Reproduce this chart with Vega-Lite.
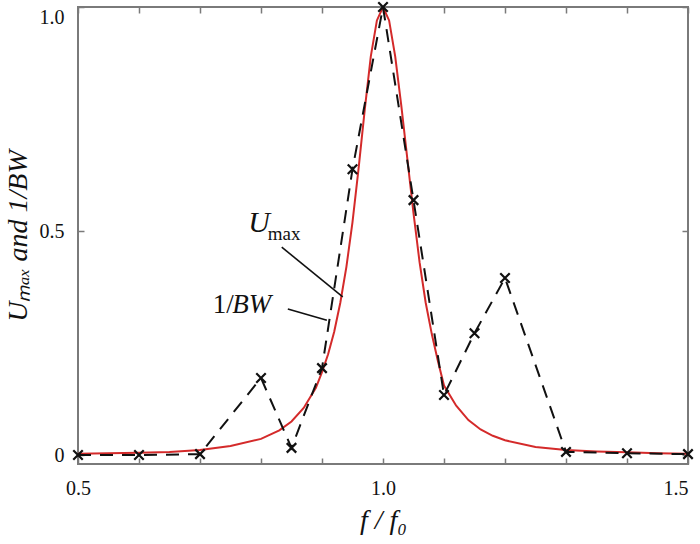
{
  "$schema": "https://vega.github.io/schema/vega-lite/v6.json",
  "width": 610,
  "height": 457,
  "autosize": "none",
  "padding": {"left": 78, "top": 7, "right": 12, "bottom": 80},
  "background": "white",
  "config": {
    "view": {"stroke": "#7a7a7a", "strokeWidth": 2},
    "font": "Liberation Serif",
    "axis": {"grid": false, "domain": false, "tickColor": "#7a7a7a", "tickWidth": 1.5, "labelFont": "Liberation Serif", "titleFont": "Liberation Serif", "labelColor": "#111", "titleColor": "#111"}
  },
  "resolve": {"axis": {"x": "independent", "y": "independent"}},
  "datasets": {
    "curve": [
      {"f": 0.5, "u": 0.003}, {"f": 0.55, "u": 0.004}, {"f": 0.6, "u": 0.005}, {"f": 0.65, "u": 0.007},
      {"f": 0.7, "u": 0.011}, {"f": 0.75, "u": 0.02}, {"f": 0.8, "u": 0.036}, {"f": 0.83, "u": 0.055},
      {"f": 0.85, "u": 0.075}, {"f": 0.87, "u": 0.105}, {"f": 0.89, "u": 0.15}, {"f": 0.9, "u": 0.185},
      {"f": 0.91, "u": 0.225}, {"f": 0.92, "u": 0.275}, {"f": 0.93, "u": 0.34}, {"f": 0.94, "u": 0.42},
      {"f": 0.95, "u": 0.52}, {"f": 0.96, "u": 0.64}, {"f": 0.97, "u": 0.77}, {"f": 0.98, "u": 0.89},
      {"f": 0.99, "u": 0.97}, {"f": 1.0, "u": 1.0}, {"f": 1.01, "u": 0.97}, {"f": 1.02, "u": 0.89},
      {"f": 1.03, "u": 0.78}, {"f": 1.04, "u": 0.66}, {"f": 1.05, "u": 0.54}, {"f": 1.06, "u": 0.43},
      {"f": 1.07, "u": 0.34}, {"f": 1.08, "u": 0.27}, {"f": 1.09, "u": 0.21}, {"f": 1.1, "u": 0.155},
      {"f": 1.12, "u": 0.11}, {"f": 1.14, "u": 0.078}, {"f": 1.16, "u": 0.057}, {"f": 1.18, "u": 0.043},
      {"f": 1.2, "u": 0.033}, {"f": 1.25, "u": 0.018}, {"f": 1.3, "u": 0.011}, {"f": 1.35, "u": 0.008},
      {"f": 1.4, "u": 0.006}, {"f": 1.45, "u": 0.004}, {"f": 1.5, "u": 0.003}
    ],
    "measured": [
      {"f": 0.5, "v": 0.0}, {"f": 0.6, "v": 0.0}, {"f": 0.7, "v": 0.002}, {"f": 0.8, "v": 0.172},
      {"f": 0.85, "v": 0.016}, {"f": 0.9, "v": 0.194}, {"f": 0.95, "v": 0.638}, {"f": 1.0, "v": 1.0},
      {"f": 1.05, "v": 0.569}, {"f": 1.1, "v": 0.134}, {"f": 1.15, "v": 0.272}, {"f": 1.2, "v": 0.395},
      {"f": 1.3, "v": 0.007}, {"f": 1.4, "v": 0.004}, {"f": 1.5, "v": 0.002}
    ],
    "leaders": [
      {"name": "Umax", "f1": 0.834, "y1": 0.464, "f2": 0.934, "y2": 0.353},
      {"name": "BW", "f1": 0.844, "y1": 0.326, "f2": 0.908, "y2": 0.301}
    ],
    "labels": [
      {"part": "U", "f": 0.779, "y": 0.497, "t": "U"},
      {"part": "max", "f": 0.811, "y": 0.481, "t": "max"},
      {"part": "one", "f": 0.721, "y": 0.318, "t": "1/"},
      {"part": "BW", "f": 0.753, "y": 0.318, "t": "BW"}
    ]
  },
  "layer": [
    {
      "data": {"name": "curve"},
      "mark": {"type": "line", "color": "#d42a2a", "strokeWidth": 2, "clip": true},
      "encoding": {
        "x": {
          "field": "f", "type": "quantitative",
          "scale": {"domain": [0.5, 1.5], "nice": false, "zero": false},
          "axis": {
            "orient": "bottom",
            "values": [0.5, 0.6, 0.7, 0.8, 0.9, 1.0, 1.1, 1.2, 1.3, 1.4, 1.5],
            "labelExpr": "datum.value == 0.5 || datum.value == 1 || datum.value == 1.5 ? format(datum.value, '.1f') : ''",
            "tickSize": -6,
            "labelPadding": 20,
            "labelFontSize": 20,
            "labelFlush": false,
            "labelOverlap": false,
            "labelAlign": {"condition": {"test": "datum.value == 1.5", "value": "right"}, "value": "center"},
            "title": "f / f₀",
            "titleFontSize": 28,
            "titleFontStyle": "italic",
            "titleFontWeight": "normal",
            "titlePadding": 8
          }
        },
        "y": {
          "field": "u", "type": "quantitative",
          "scale": {"domain": [-0.02, 1.0], "nice": false, "zero": false},
          "axis": {
            "orient": "left",
            "values": [0, 0.5, 1.0],
            "labelExpr": "datum.value == 0 ? '0' : format(datum.value, '.1f')",
            "tickSize": -6,
            "labelPadding": 20,
            "labelFontSize": 20,
            "labelFlush": false,
            "labelOverlap": false,
            "labelBaseline": {"condition": {"test": "datum.value == 1", "value": "top"}, "value": "middle"},
            "title": "Uₘₐₓ  and  1/BW",
            "titleFontSize": 28,
            "titleFontStyle": "italic",
            "titleFontWeight": "normal",
            "titlePadding": 7
          }
        }
      }
    },
    {
      "data": {"name": "curve"},
      "mark": {"type": "rule", "opacity": 0},
      "encoding": {
        "x": {"field": "f", "type": "quantitative", "axis": {"orient": "top", "values": [0.5, 0.6, 0.7, 0.8, 0.9, 1.0, 1.1, 1.2, 1.3, 1.4, 1.5], "labels": false, "tickSize": -6, "title": null}},
        "y": {"field": "u", "type": "quantitative", "axis": {"orient": "right", "values": [0, 0.5, 1.0], "labels": false, "tickSize": -6, "title": null}}
      }
    },
    {
      "data": {"name": "measured"},
      "mark": {"type": "line", "color": "#111", "strokeWidth": 2, "strokeDash": [13, 9]},
      "encoding": {
        "x": {"field": "f", "type": "quantitative", "axis": null},
        "y": {"field": "v", "type": "quantitative", "axis": null}
      }
    },
    {
      "data": {"name": "measured"},
      "mark": {"type": "point", "shape": "M-1,-1L1,1M-1,1L1,-1", "size": 90, "filled": false, "stroke": "#111", "strokeWidth": 2.2, "opacity": 1},
      "encoding": {
        "x": {"field": "f", "type": "quantitative", "axis": null},
        "y": {"field": "v", "type": "quantitative", "axis": null}
      }
    },
    {
      "data": {"name": "leaders"},
      "mark": {"type": "rule", "color": "#111", "strokeWidth": 1.6},
      "encoding": {
        "x": {"field": "f1", "type": "quantitative", "axis": null},
        "y": {"field": "y1", "type": "quantitative", "axis": null},
        "x2": {"field": "f2"},
        "y2": {"field": "y2"}
      }
    },
    {
      "data": {"name": "labels"},
      "transform": [{"filter": "datum.part == 'U'"}],
      "mark": {"type": "text", "align": "left", "baseline": "alphabetic", "font": "Liberation Serif", "fontSize": 30, "fontStyle": "italic", "color": "#111"},
      "encoding": {
        "x": {"field": "f", "type": "quantitative", "axis": null},
        "y": {"field": "y", "type": "quantitative", "axis": null},
        "text": {"field": "t"}
      }
    },
    {
      "data": {"name": "labels"},
      "transform": [{"filter": "datum.part == 'max'"}],
      "mark": {"type": "text", "align": "left", "baseline": "alphabetic", "font": "Liberation Serif", "fontSize": 19, "color": "#111"},
      "encoding": {
        "x": {"field": "f", "type": "quantitative", "axis": null},
        "y": {"field": "y", "type": "quantitative", "axis": null},
        "text": {"field": "t"}
      }
    },
    {
      "data": {"name": "labels"},
      "transform": [{"filter": "datum.part == 'one'"}],
      "mark": {"type": "text", "align": "left", "baseline": "alphabetic", "font": "Liberation Serif", "fontSize": 27, "color": "#111"},
      "encoding": {
        "x": {"field": "f", "type": "quantitative", "axis": null},
        "y": {"field": "y", "type": "quantitative", "axis": null},
        "text": {"field": "t"}
      }
    },
    {
      "data": {"name": "labels"},
      "transform": [{"filter": "datum.part == 'BW'"}],
      "mark": {"type": "text", "align": "left", "baseline": "alphabetic", "font": "Liberation Serif", "fontSize": 27, "fontStyle": "italic", "color": "#111"},
      "encoding": {
        "x": {"field": "f", "type": "quantitative", "axis": null},
        "y": {"field": "y", "type": "quantitative", "axis": null},
        "text": {"field": "t"}
      }
    }
  ]
}
